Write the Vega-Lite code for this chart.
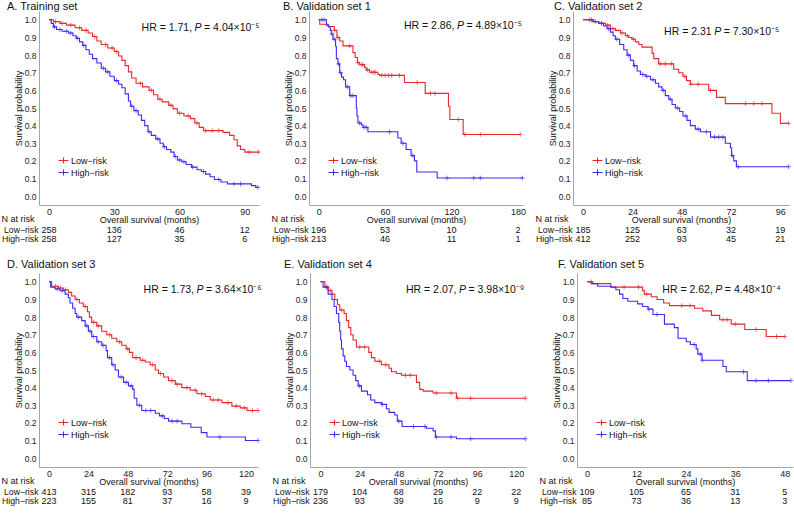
{
"$schema": "https://vega.github.io/schema/vega-lite/v6.json",
"background": "white",
"padding": {"left": 1, "top": 1, "right": 0, "bottom": 0},
"spacing": 15,
"resolve": {"scale": {"color": "independent"}, "legend": {"color": "independent"}},
"config": {
  "font": "Liberation Sans",
  "view": {"stroke": null},
  "axis": {"grid": false, "ticks": false, "tickSize": 0, "domainColor": "#A6A6A6", "domainWidth": 1, "labelFontSize": 9, "labelColor": "#222222", "titleFontSize": 9, "titleFontWeight": "normal", "titleColor": "#111111", "labelPadding": 2, "labelOverlap": false},
  "axisX": {"titlePadding": -1, "labelPadding": 2},
  "axisY": {"labelPadding": 3, "titlePadding": 1, "labelFontSize": 8.5},
  "legend": {"orient": "none", "legendX": 19, "legendY": 144, "padding": 0, "labelFontSize": 9, "labelColor": "#111111", "symbolSize": 100, "symbolStrokeWidth": 1, "rowPadding": 1, "labelOffset": 2, "symbolType": "M-1,0H1M0,-0.6V0.6"},
  "title": {"fontSize": 11, "fontWeight": "normal", "anchor": "start", "color": "#111111", "offset": -1, "frame": "group"}
},
"datasets": {
"stats": [
{"panel":"A","hr":"HR = 1.71,","rest":"= 4.04×10⁻⁵"},
{"panel":"B","hr":"HR = 2.86,","rest":"= 4.89×10⁻⁵"},
{"panel":"C","hr":"HR = 2.31","rest":"= 7.30×10⁻⁵"},
{"panel":"D","hr":"HR = 1.73,","rest":"= 3.64×10⁻⁶"},
{"panel":"E","hr":"HR = 2.07,","rest":"= 3.98×10⁻⁹"},
{"panel":"F","hr":"HR = 2.62,","rest":"= 4.48×10⁻⁴"}
],
"risk": [
{"panel":"A","group":"Low−risk","time":0,"n":258},{"panel":"A","group":"Low−risk","time":30,"n":136},{"panel":"A","group":"Low−risk","time":60,"n":46},{"panel":"A","group":"Low−risk","time":90,"n":12},
{"panel":"A","group":"High−risk","time":0,"n":258},{"panel":"A","group":"High−risk","time":30,"n":127},{"panel":"A","group":"High−risk","time":60,"n":35},{"panel":"A","group":"High−risk","time":90,"n":6},
{"panel":"B","group":"Low−risk","time":0,"n":196},{"panel":"B","group":"Low−risk","time":60,"n":53},{"panel":"B","group":"Low−risk","time":120,"n":10},{"panel":"B","group":"Low−risk","time":180,"n":2},
{"panel":"B","group":"High−risk","time":0,"n":213},{"panel":"B","group":"High−risk","time":60,"n":46},{"panel":"B","group":"High−risk","time":120,"n":11},{"panel":"B","group":"High−risk","time":180,"n":1},
{"panel":"C","group":"Low−risk","time":0,"n":185},{"panel":"C","group":"Low−risk","time":24,"n":125},{"panel":"C","group":"Low−risk","time":48,"n":63},{"panel":"C","group":"Low−risk","time":72,"n":32},{"panel":"C","group":"Low−risk","time":96,"n":19},
{"panel":"C","group":"High−risk","time":0,"n":412},{"panel":"C","group":"High−risk","time":24,"n":252},{"panel":"C","group":"High−risk","time":48,"n":93},{"panel":"C","group":"High−risk","time":72,"n":45},{"panel":"C","group":"High−risk","time":96,"n":21},
{"panel":"D","group":"Low−risk","time":0,"n":413},{"panel":"D","group":"Low−risk","time":24,"n":315},{"panel":"D","group":"Low−risk","time":48,"n":182},{"panel":"D","group":"Low−risk","time":72,"n":93},{"panel":"D","group":"Low−risk","time":96,"n":58},{"panel":"D","group":"Low−risk","time":120,"n":39},
{"panel":"D","group":"High−risk","time":0,"n":223},{"panel":"D","group":"High−risk","time":24,"n":155},{"panel":"D","group":"High−risk","time":48,"n":81},{"panel":"D","group":"High−risk","time":72,"n":37},{"panel":"D","group":"High−risk","time":96,"n":16},{"panel":"D","group":"High−risk","time":120,"n":9},
{"panel":"E","group":"Low−risk","time":0,"n":179},{"panel":"E","group":"Low−risk","time":24,"n":104},{"panel":"E","group":"Low−risk","time":48,"n":68},{"panel":"E","group":"Low−risk","time":72,"n":29},{"panel":"E","group":"Low−risk","time":96,"n":22},{"panel":"E","group":"Low−risk","time":120,"n":22},
{"panel":"E","group":"High−risk","time":0,"n":236},{"panel":"E","group":"High−risk","time":24,"n":93},{"panel":"E","group":"High−risk","time":48,"n":39},{"panel":"E","group":"High−risk","time":72,"n":16},{"panel":"E","group":"High−risk","time":96,"n":9},{"panel":"E","group":"High−risk","time":120,"n":9},
{"panel":"F","group":"Low−risk","time":0,"n":109},{"panel":"F","group":"Low−risk","time":12,"n":105},{"panel":"F","group":"Low−risk","time":24,"n":65},{"panel":"F","group":"Low−risk","time":36,"n":31},{"panel":"F","group":"Low−risk","time":48,"n":5},
{"panel":"F","group":"High−risk","time":0,"n":85},{"panel":"F","group":"High−risk","time":12,"n":73},{"panel":"F","group":"High−risk","time":24,"n":36},{"panel":"F","group":"High−risk","time":36,"n":13},{"panel":"F","group":"High−risk","time":48,"n":3}
],
"km": [
{"panel":"A","group":"Low−risk","time":0,"surv":1,"cens":0},{"panel":"A","group":"Low−risk","time":2,"surv":0.99,"cens":0},{"panel":"A","group":"Low−risk","time":5,"surv":0.98,"cens":0},{"panel":"A","group":"Low−risk","time":8,"surv":0.97,"cens":0},{"panel":"A","group":"Low−risk","time":12,"surv":0.955,"cens":0},{"panel":"A","group":"Low−risk","time":15,"surv":0.94,"cens":0},{"panel":"A","group":"Low−risk","time":18,"surv":0.925,"cens":0},{"panel":"A","group":"Low−risk","time":20,"surv":0.905,"cens":0},{"panel":"A","group":"Low−risk","time":22,"surv":0.88,"cens":0},{"panel":"A","group":"Low−risk","time":24,"surv":0.86,"cens":0},{"panel":"A","group":"Low−risk","time":27,"surv":0.84,"cens":0},{"panel":"A","group":"Low−risk","time":30,"surv":0.82,"cens":0},{"panel":"A","group":"Low−risk","time":32,"surv":0.795,"cens":0},{"panel":"A","group":"Low−risk","time":33.5,"surv":0.77,"cens":0},{"panel":"A","group":"Low−risk","time":35,"surv":0.74,"cens":0},{"panel":"A","group":"Low−risk","time":36.5,"surv":0.705,"cens":0},{"panel":"A","group":"Low−risk","time":38,"surv":0.67,"cens":0},{"panel":"A","group":"Low−risk","time":40,"surv":0.64,"cens":0},{"panel":"A","group":"Low−risk","time":43,"surv":0.62,"cens":0},{"panel":"A","group":"Low−risk","time":46,"surv":0.6,"cens":0},{"panel":"A","group":"Low−risk","time":48,"surv":0.575,"cens":0},{"panel":"A","group":"Low−risk","time":50,"surv":0.55,"cens":0},{"panel":"A","group":"Low−risk","time":52,"surv":0.535,"cens":0},{"panel":"A","group":"Low−risk","time":55,"surv":0.515,"cens":0},{"panel":"A","group":"Low−risk","time":57,"surv":0.495,"cens":0},{"panel":"A","group":"Low−risk","time":59,"surv":0.47,"cens":0},{"panel":"A","group":"Low−risk","time":62,"surv":0.455,"cens":0},{"panel":"A","group":"Low−risk","time":65,"surv":0.44,"cens":0},{"panel":"A","group":"Low−risk","time":67,"surv":0.415,"cens":0},{"panel":"A","group":"Low−risk","time":69,"surv":0.39,"cens":0},{"panel":"A","group":"Low−risk","time":71,"surv":0.372,"cens":0},{"panel":"A","group":"Low−risk","time":80,"surv":0.362,"cens":0},{"panel":"A","group":"Low−risk","time":83,"surv":0.345,"cens":0},{"panel":"A","group":"Low−risk","time":85,"surv":0.32,"cens":0},{"panel":"A","group":"Low−risk","time":86.5,"surv":0.285,"cens":0},{"panel":"A","group":"Low−risk","time":88,"surv":0.265,"cens":0},{"panel":"A","group":"Low−risk","time":90,"surv":0.25,"cens":0},
{"panel":"A","group":"Low−risk","time":3,"surv":0.99,"cens":1},{"panel":"A","group":"Low−risk","time":6,"surv":0.98,"cens":1},{"panel":"A","group":"Low−risk","time":10,"surv":0.97,"cens":1},{"panel":"A","group":"Low−risk","time":14,"surv":0.955,"cens":1},{"panel":"A","group":"Low−risk","time":17,"surv":0.94,"cens":1},{"panel":"A","group":"Low−risk","time":21,"surv":0.905,"cens":1},{"panel":"A","group":"Low−risk","time":26,"surv":0.86,"cens":1},{"panel":"A","group":"Low−risk","time":29,"surv":0.84,"cens":1},{"panel":"A","group":"Low−risk","time":31,"surv":0.82,"cens":1},{"panel":"A","group":"Low−risk","time":42,"surv":0.64,"cens":1},{"panel":"A","group":"Low−risk","time":47,"surv":0.6,"cens":1},{"panel":"A","group":"Low−risk","time":51,"surv":0.55,"cens":1},{"panel":"A","group":"Low−risk","time":56,"surv":0.515,"cens":1},{"panel":"A","group":"Low−risk","time":60,"surv":0.47,"cens":1},{"panel":"A","group":"Low−risk","time":64,"surv":0.455,"cens":1},{"panel":"A","group":"Low−risk","time":68,"surv":0.415,"cens":1},{"panel":"A","group":"Low−risk","time":72,"surv":0.372,"cens":1},{"panel":"A","group":"Low−risk","time":75,"surv":0.372,"cens":1},{"panel":"A","group":"Low−risk","time":78,"surv":0.372,"cens":1},{"panel":"A","group":"Low−risk","time":92,"surv":0.25,"cens":1},{"panel":"A","group":"Low−risk","time":96.3,"surv":0.25,"cens":1},
{"panel":"A","group":"High−risk","time":0,"surv":1,"cens":0},{"panel":"A","group":"High−risk","time":1,"surv":0.98,"cens":0},{"panel":"A","group":"High−risk","time":2,"surv":0.96,"cens":0},{"panel":"A","group":"High−risk","time":3.5,"surv":0.945,"cens":0},{"panel":"A","group":"High−risk","time":6,"surv":0.935,"cens":0},{"panel":"A","group":"High−risk","time":9,"surv":0.925,"cens":0},{"panel":"A","group":"High−risk","time":11,"surv":0.91,"cens":0},{"panel":"A","group":"High−risk","time":12.5,"surv":0.895,"cens":0},{"panel":"A","group":"High−risk","time":14,"surv":0.875,"cens":0},{"panel":"A","group":"High−risk","time":15.5,"surv":0.855,"cens":0},{"panel":"A","group":"High−risk","time":17,"surv":0.83,"cens":0},{"panel":"A","group":"High−risk","time":18.5,"surv":0.805,"cens":0},{"panel":"A","group":"High−risk","time":20,"surv":0.78,"cens":0},{"panel":"A","group":"High−risk","time":22,"surv":0.755,"cens":0},{"panel":"A","group":"High−risk","time":24,"surv":0.725,"cens":0},{"panel":"A","group":"High−risk","time":26,"surv":0.705,"cens":0},{"panel":"A","group":"High−risk","time":28,"surv":0.68,"cens":0},{"panel":"A","group":"High−risk","time":30,"surv":0.655,"cens":0},{"panel":"A","group":"High−risk","time":32,"surv":0.635,"cens":0},{"panel":"A","group":"High−risk","time":33.5,"surv":0.615,"cens":0},{"panel":"A","group":"High−risk","time":35,"surv":0.58,"cens":0},{"panel":"A","group":"High−risk","time":36.5,"surv":0.54,"cens":0},{"panel":"A","group":"High−risk","time":37.5,"surv":0.51,"cens":0},{"panel":"A","group":"High−risk","time":39,"surv":0.485,"cens":0},{"panel":"A","group":"High−risk","time":41,"surv":0.46,"cens":0},{"panel":"A","group":"High−risk","time":42.5,"surv":0.43,"cens":0},{"panel":"A","group":"High−risk","time":44,"surv":0.4,"cens":0},{"panel":"A","group":"High−risk","time":45.5,"surv":0.365,"cens":0},{"panel":"A","group":"High−risk","time":47,"surv":0.345,"cens":0},{"panel":"A","group":"High−risk","time":49,"surv":0.325,"cens":0},{"panel":"A","group":"High−risk","time":51,"surv":0.3,"cens":0},{"panel":"A","group":"High−risk","time":52.5,"surv":0.28,"cens":0},{"panel":"A","group":"High−risk","time":54,"surv":0.265,"cens":0},{"panel":"A","group":"High−risk","time":56,"surv":0.25,"cens":0},{"panel":"A","group":"High−risk","time":57.5,"surv":0.225,"cens":0},{"panel":"A","group":"High−risk","time":59,"surv":0.205,"cens":0},{"panel":"A","group":"High−risk","time":61,"surv":0.195,"cens":0},{"panel":"A","group":"High−risk","time":63,"surv":0.18,"cens":0},{"panel":"A","group":"High−risk","time":65.5,"surv":0.165,"cens":0},{"panel":"A","group":"High−risk","time":68,"surv":0.15,"cens":0},{"panel":"A","group":"High−risk","time":70,"surv":0.14,"cens":0},{"panel":"A","group":"High−risk","time":72,"surv":0.125,"cens":0},{"panel":"A","group":"High−risk","time":74,"surv":0.11,"cens":0},{"panel":"A","group":"High−risk","time":76,"surv":0.095,"cens":0},{"panel":"A","group":"High−risk","time":79,"surv":0.08,"cens":0},{"panel":"A","group":"High−risk","time":82,"surv":0.07,"cens":0},{"panel":"A","group":"High−risk","time":93,"surv":0.06,"cens":0},{"panel":"A","group":"High−risk","time":95,"surv":0.05,"cens":0},
{"panel":"A","group":"High−risk","time":2.5,"surv":0.96,"cens":1},{"panel":"A","group":"High−risk","time":5,"surv":0.945,"cens":1},{"panel":"A","group":"High−risk","time":8,"surv":0.935,"cens":1},{"panel":"A","group":"High−risk","time":10,"surv":0.925,"cens":1},{"panel":"A","group":"High−risk","time":13,"surv":0.895,"cens":1},{"panel":"A","group":"High−risk","time":16,"surv":0.855,"cens":1},{"panel":"A","group":"High−risk","time":25,"surv":0.725,"cens":1},{"panel":"A","group":"High−risk","time":27,"surv":0.705,"cens":1},{"panel":"A","group":"High−risk","time":31,"surv":0.655,"cens":1},{"panel":"A","group":"High−risk","time":38,"surv":0.51,"cens":1},{"panel":"A","group":"High−risk","time":40,"surv":0.485,"cens":1},{"panel":"A","group":"High−risk","time":46,"surv":0.365,"cens":1},{"panel":"A","group":"High−risk","time":50,"surv":0.325,"cens":1},{"panel":"A","group":"High−risk","time":53,"surv":0.28,"cens":1},{"panel":"A","group":"High−risk","time":58,"surv":0.225,"cens":1},{"panel":"A","group":"High−risk","time":60,"surv":0.205,"cens":1},{"panel":"A","group":"High−risk","time":62,"surv":0.195,"cens":1},{"panel":"A","group":"High−risk","time":66,"surv":0.165,"cens":1},{"panel":"A","group":"High−risk","time":71,"surv":0.14,"cens":1},{"panel":"A","group":"High−risk","time":78,"surv":0.095,"cens":1},{"panel":"A","group":"High−risk","time":85,"surv":0.07,"cens":1},{"panel":"A","group":"High−risk","time":88,"surv":0.07,"cens":1},{"panel":"A","group":"High−risk","time":96,"surv":0.05,"cens":1},
{"panel":"B","group":"Low−risk","time":0,"surv":1,"cens":0},{"panel":"B","group":"Low−risk","time":1,"surv":0.975,"cens":0},{"panel":"B","group":"Low−risk","time":8.5,"surv":0.962,"cens":0},{"panel":"B","group":"Low−risk","time":14,"surv":0.94,"cens":0},{"panel":"B","group":"Low−risk","time":16.5,"surv":0.9,"cens":0},{"panel":"B","group":"Low−risk","time":19,"surv":0.88,"cens":0},{"panel":"B","group":"Low−risk","time":22,"surv":0.852,"cens":0},{"panel":"B","group":"Low−risk","time":31,"surv":0.814,"cens":0},{"panel":"B","group":"Low−risk","time":33,"surv":0.786,"cens":0},{"panel":"B","group":"Low−risk","time":35,"surv":0.757,"cens":0},{"panel":"B","group":"Low−risk","time":37,"surv":0.746,"cens":0},{"panel":"B","group":"Low−risk","time":41.5,"surv":0.73,"cens":0},{"panel":"B","group":"Low−risk","time":43,"surv":0.716,"cens":0},{"panel":"B","group":"Low−risk","time":46,"surv":0.703,"cens":0},{"panel":"B","group":"Low−risk","time":53.5,"surv":0.69,"cens":0},{"panel":"B","group":"Low−risk","time":55,"surv":0.685,"cens":0},{"panel":"B","group":"Low−risk","time":77.5,"surv":0.645,"cens":0},{"panel":"B","group":"Low−risk","time":96.2,"surv":0.583,"cens":0},{"panel":"B","group":"Low−risk","time":117.2,"surv":0.51,"cens":0},{"panel":"B","group":"Low−risk","time":118.5,"surv":0.435,"cens":0},{"panel":"B","group":"Low−risk","time":130.5,"surv":0.35,"cens":0},
{"panel":"B","group":"Low−risk","time":14.5,"surv":0.94,"cens":1},{"panel":"B","group":"Low−risk","time":17.5,"surv":0.9,"cens":1},{"panel":"B","group":"Low−risk","time":28,"surv":0.852,"cens":1},{"panel":"B","group":"Low−risk","time":35.5,"surv":0.757,"cens":1},{"panel":"B","group":"Low−risk","time":39,"surv":0.746,"cens":1},{"panel":"B","group":"Low−risk","time":40,"surv":0.746,"cens":1},{"panel":"B","group":"Low−risk","time":44,"surv":0.716,"cens":1},{"panel":"B","group":"Low−risk","time":48,"surv":0.703,"cens":1},{"panel":"B","group":"Low−risk","time":50,"surv":0.703,"cens":1},{"panel":"B","group":"Low−risk","time":51,"surv":0.703,"cens":1},{"panel":"B","group":"Low−risk","time":57,"surv":0.685,"cens":1},{"panel":"B","group":"Low−risk","time":60,"surv":0.685,"cens":1},{"panel":"B","group":"Low−risk","time":63,"surv":0.685,"cens":1},{"panel":"B","group":"Low−risk","time":66,"surv":0.685,"cens":1},{"panel":"B","group":"Low−risk","time":73,"surv":0.685,"cens":1},{"panel":"B","group":"Low−risk","time":89,"surv":0.645,"cens":1},{"panel":"B","group":"Low−risk","time":101,"surv":0.583,"cens":1},{"panel":"B","group":"Low−risk","time":105,"surv":0.583,"cens":1},{"panel":"B","group":"Low−risk","time":126,"surv":0.435,"cens":1},{"panel":"B","group":"Low−risk","time":132,"surv":0.35,"cens":1},{"panel":"B","group":"Low−risk","time":146,"surv":0.35,"cens":1},{"panel":"B","group":"Low−risk","time":182,"surv":0.35,"cens":1},
{"panel":"B","group":"High−risk","time":0,"surv":1,"cens":0},{"panel":"B","group":"High−risk","time":7,"surv":0.97,"cens":0},{"panel":"B","group":"High−risk","time":9,"surv":0.96,"cens":0},{"panel":"B","group":"High−risk","time":10.5,"surv":0.94,"cens":0},{"panel":"B","group":"High−risk","time":11.5,"surv":0.92,"cens":0},{"panel":"B","group":"High−risk","time":13,"surv":0.89,"cens":0},{"panel":"B","group":"High−risk","time":15.3,"surv":0.85,"cens":0},{"panel":"B","group":"High−risk","time":16,"surv":0.78,"cens":0},{"panel":"B","group":"High−risk","time":17.4,"surv":0.75,"cens":0},{"panel":"B","group":"High−risk","time":19,"surv":0.7,"cens":0},{"panel":"B","group":"High−risk","time":20.7,"surv":0.675,"cens":0},{"panel":"B","group":"High−risk","time":22.5,"surv":0.66,"cens":0},{"panel":"B","group":"High−risk","time":24.3,"surv":0.62,"cens":0},{"panel":"B","group":"High−risk","time":28,"surv":0.57,"cens":0},{"panel":"B","group":"High−risk","time":34,"surv":0.5,"cens":0},{"panel":"B","group":"High−risk","time":34.6,"surv":0.455,"cens":0},{"panel":"B","group":"High−risk","time":35.5,"surv":0.415,"cens":0},{"panel":"B","group":"High−risk","time":38.5,"surv":0.405,"cens":0},{"panel":"B","group":"High−risk","time":40,"surv":0.39,"cens":0},{"panel":"B","group":"High−risk","time":44.5,"surv":0.365,"cens":0},{"panel":"B","group":"High−risk","time":71.5,"surv":0.33,"cens":0},{"panel":"B","group":"High−risk","time":74.5,"surv":0.3,"cens":0},{"panel":"B","group":"High−risk","time":79,"surv":0.265,"cens":0},{"panel":"B","group":"High−risk","time":83.5,"surv":0.23,"cens":0},{"panel":"B","group":"High−risk","time":86.5,"surv":0.2,"cens":0},{"panel":"B","group":"High−risk","time":88.6,"surv":0.137,"cens":0},{"panel":"B","group":"High−risk","time":107,"surv":0.103,"cens":0},
{"panel":"B","group":"High−risk","time":3,"surv":1,"cens":1},{"panel":"B","group":"High−risk","time":5,"surv":1,"cens":1},{"panel":"B","group":"High−risk","time":12,"surv":0.92,"cens":1},{"panel":"B","group":"High−risk","time":14,"surv":0.89,"cens":1},{"panel":"B","group":"High−risk","time":18,"surv":0.75,"cens":1},{"panel":"B","group":"High−risk","time":20,"surv":0.7,"cens":1},{"panel":"B","group":"High−risk","time":26,"surv":0.62,"cens":1},{"panel":"B","group":"High−risk","time":29,"surv":0.57,"cens":1},{"panel":"B","group":"High−risk","time":31,"surv":0.57,"cens":1},{"panel":"B","group":"High−risk","time":37,"surv":0.415,"cens":1},{"panel":"B","group":"High−risk","time":41,"surv":0.39,"cens":1},{"panel":"B","group":"High−risk","time":43,"surv":0.39,"cens":1},{"panel":"B","group":"High−risk","time":64,"surv":0.365,"cens":1},{"panel":"B","group":"High−risk","time":76,"surv":0.3,"cens":1},{"panel":"B","group":"High−risk","time":85,"surv":0.23,"cens":1},{"panel":"B","group":"High−risk","time":116,"surv":0.103,"cens":1},{"panel":"B","group":"High−risk","time":140,"surv":0.103,"cens":1},{"panel":"B","group":"High−risk","time":146,"surv":0.103,"cens":1},{"panel":"B","group":"High−risk","time":184,"surv":0.103,"cens":1},
{"panel":"C","group":"Low−risk","time":0,"surv":1,"cens":0},{"panel":"C","group":"Low−risk","time":4.4,"surv":0.99,"cens":0},{"panel":"C","group":"Low−risk","time":7.6,"surv":0.98,"cens":0},{"panel":"C","group":"Low−risk","time":10.9,"surv":0.97,"cens":0},{"panel":"C","group":"Low−risk","time":13.3,"surv":0.95,"cens":0},{"panel":"C","group":"Low−risk","time":15.7,"surv":0.94,"cens":0},{"panel":"C","group":"Low−risk","time":18.2,"surv":0.925,"cens":0},{"panel":"C","group":"Low−risk","time":20.6,"surv":0.91,"cens":0},{"panel":"C","group":"Low−risk","time":22.2,"surv":0.9,"cens":0},{"panel":"C","group":"Low−risk","time":23.8,"surv":0.89,"cens":0},{"panel":"C","group":"Low−risk","time":25.5,"surv":0.875,"cens":0},{"panel":"C","group":"Low−risk","time":27.1,"surv":0.86,"cens":0},{"panel":"C","group":"Low−risk","time":28.7,"surv":0.845,"cens":0},{"panel":"C","group":"Low−risk","time":33.6,"surv":0.81,"cens":0},{"panel":"C","group":"Low−risk","time":34.4,"surv":0.78,"cens":0},{"panel":"C","group":"Low−risk","time":36.8,"surv":0.75,"cens":0},{"panel":"C","group":"Low−risk","time":44.1,"surv":0.72,"cens":0},{"panel":"C","group":"Low−risk","time":46.5,"surv":0.7,"cens":0},{"panel":"C","group":"Low−risk","time":48.6,"surv":0.68,"cens":0},{"panel":"C","group":"Low−risk","time":50.3,"surv":0.655,"cens":0},{"panel":"C","group":"Low−risk","time":52.2,"surv":0.635,"cens":0},{"panel":"C","group":"Low−risk","time":61.1,"surv":0.6,"cens":0},{"panel":"C","group":"Low−risk","time":64.9,"surv":0.56,"cens":0},{"panel":"C","group":"Low−risk","time":69.2,"surv":0.525,"cens":0},{"panel":"C","group":"Low−risk","time":91.9,"surv":0.47,"cens":0},{"panel":"C","group":"Low−risk","time":96,"surv":0.413,"cens":0},
{"panel":"C","group":"Low−risk","time":3,"surv":1,"cens":1},{"panel":"C","group":"Low−risk","time":6,"surv":0.99,"cens":1},{"panel":"C","group":"Low−risk","time":9,"surv":0.98,"cens":1},{"panel":"C","group":"Low−risk","time":12,"surv":0.97,"cens":1},{"panel":"C","group":"Low−risk","time":14.5,"surv":0.95,"cens":1},{"panel":"C","group":"Low−risk","time":19,"surv":0.925,"cens":1},{"panel":"C","group":"Low−risk","time":21.5,"surv":0.91,"cens":1},{"panel":"C","group":"Low−risk","time":24.5,"surv":0.89,"cens":1},{"panel":"C","group":"Low−risk","time":37.5,"surv":0.75,"cens":1},{"panel":"C","group":"Low−risk","time":40,"surv":0.75,"cens":1},{"panel":"C","group":"Low−risk","time":43,"surv":0.75,"cens":1},{"panel":"C","group":"Low−risk","time":49.5,"surv":0.68,"cens":1},{"panel":"C","group":"Low−risk","time":52.5,"surv":0.635,"cens":1},{"panel":"C","group":"Low−risk","time":56,"surv":0.635,"cens":1},{"panel":"C","group":"Low−risk","time":62,"surv":0.6,"cens":1},{"panel":"C","group":"Low−risk","time":79,"surv":0.525,"cens":1},{"panel":"C","group":"Low−risk","time":83,"surv":0.525,"cens":1},{"panel":"C","group":"Low−risk","time":87,"surv":0.525,"cens":1},{"panel":"C","group":"Low−risk","time":100,"surv":0.413,"cens":1},
{"panel":"C","group":"High−risk","time":0,"surv":1,"cens":0},{"panel":"C","group":"High−risk","time":5.2,"surv":0.99,"cens":0},{"panel":"C","group":"High−risk","time":7.6,"surv":0.98,"cens":0},{"panel":"C","group":"High−risk","time":10,"surv":0.965,"cens":0},{"panel":"C","group":"High−risk","time":11.7,"surv":0.95,"cens":0},{"panel":"C","group":"High−risk","time":13.3,"surv":0.93,"cens":0},{"panel":"C","group":"High−risk","time":14.6,"surv":0.91,"cens":0},{"panel":"C","group":"High−risk","time":15.7,"surv":0.89,"cens":0},{"panel":"C","group":"High−risk","time":17.8,"surv":0.86,"cens":0},{"panel":"C","group":"High−risk","time":19.8,"surv":0.83,"cens":0},{"panel":"C","group":"High−risk","time":21.4,"surv":0.8,"cens":0},{"panel":"C","group":"High−risk","time":23,"surv":0.77,"cens":0},{"panel":"C","group":"High−risk","time":24.6,"surv":0.74,"cens":0},{"panel":"C","group":"High−risk","time":26.3,"surv":0.71,"cens":0},{"panel":"C","group":"High−risk","time":27.9,"surv":0.69,"cens":0},{"panel":"C","group":"High−risk","time":30.3,"surv":0.68,"cens":0},{"panel":"C","group":"High−risk","time":32.8,"surv":0.66,"cens":0},{"panel":"C","group":"High−risk","time":35.2,"surv":0.64,"cens":0},{"panel":"C","group":"High−risk","time":36.8,"surv":0.62,"cens":0},{"panel":"C","group":"High−risk","time":38.4,"surv":0.6,"cens":0},{"panel":"C","group":"High−risk","time":40,"surv":0.57,"cens":0},{"panel":"C","group":"High−risk","time":41.7,"surv":0.55,"cens":0},{"panel":"C","group":"High−risk","time":43.3,"surv":0.52,"cens":0},{"panel":"C","group":"High−risk","time":44.9,"surv":0.5,"cens":0},{"panel":"C","group":"High−risk","time":47,"surv":0.48,"cens":0},{"panel":"C","group":"High−risk","time":48.6,"surv":0.455,"cens":0},{"panel":"C","group":"High−risk","time":50.6,"surv":0.43,"cens":0},{"panel":"C","group":"High−risk","time":52.2,"surv":0.4,"cens":0},{"panel":"C","group":"High−risk","time":54.6,"surv":0.38,"cens":0},{"panel":"C","group":"High−risk","time":57.1,"surv":0.365,"cens":0},{"panel":"C","group":"High−risk","time":62,"surv":0.335,"cens":0},{"panel":"C","group":"High−risk","time":69.2,"surv":0.3,"cens":0},{"panel":"C","group":"High−risk","time":71.7,"surv":0.275,"cens":0},{"panel":"C","group":"High−risk","time":72.3,"surv":0.23,"cens":0},{"panel":"C","group":"High−risk","time":73.3,"surv":0.2,"cens":0},{"panel":"C","group":"High−risk","time":74.6,"surv":0.167,"cens":0},
{"panel":"C","group":"High−risk","time":4,"surv":1,"cens":1},{"panel":"C","group":"High−risk","time":9,"surv":0.98,"cens":1},{"panel":"C","group":"High−risk","time":12.5,"surv":0.95,"cens":1},{"panel":"C","group":"High−risk","time":16.5,"surv":0.89,"cens":1},{"panel":"C","group":"High−risk","time":22,"surv":0.8,"cens":1},{"panel":"C","group":"High−risk","time":25,"surv":0.74,"cens":1},{"panel":"C","group":"High−risk","time":29,"surv":0.69,"cens":1},{"panel":"C","group":"High−risk","time":31,"surv":0.68,"cens":1},{"panel":"C","group":"High−risk","time":34,"surv":0.66,"cens":1},{"panel":"C","group":"High−risk","time":39,"surv":0.6,"cens":1},{"panel":"C","group":"High−risk","time":42.5,"surv":0.55,"cens":1},{"panel":"C","group":"High−risk","time":46,"surv":0.5,"cens":1},{"panel":"C","group":"High−risk","time":50,"surv":0.455,"cens":1},{"panel":"C","group":"High−risk","time":56,"surv":0.38,"cens":1},{"panel":"C","group":"High−risk","time":60,"surv":0.365,"cens":1},{"panel":"C","group":"High−risk","time":64,"surv":0.335,"cens":1},{"panel":"C","group":"High−risk","time":66,"surv":0.335,"cens":1},{"panel":"C","group":"High−risk","time":68,"surv":0.335,"cens":1},{"panel":"C","group":"High−risk","time":72.5,"surv":0.23,"cens":1},{"panel":"C","group":"High−risk","time":75.5,"surv":0.167,"cens":1},{"panel":"C","group":"High−risk","time":100,"surv":0.167,"cens":1},
{"panel":"D","group":"Low−risk","time":0,"surv":1,"cens":0},{"panel":"D","group":"Low−risk","time":1.6,"surv":0.975,"cens":0},{"panel":"D","group":"Low−risk","time":5.7,"surv":0.965,"cens":0},{"panel":"D","group":"Low−risk","time":8.7,"surv":0.955,"cens":0},{"panel":"D","group":"Low−risk","time":11.8,"surv":0.94,"cens":0},{"panel":"D","group":"Low−risk","time":13.8,"surv":0.92,"cens":0},{"panel":"D","group":"Low−risk","time":15.9,"surv":0.9,"cens":0},{"panel":"D","group":"Low−risk","time":18.5,"surv":0.88,"cens":0},{"panel":"D","group":"Low−risk","time":20.9,"surv":0.86,"cens":0},{"panel":"D","group":"Low−risk","time":23.4,"surv":0.83,"cens":0},{"panel":"D","group":"Low−risk","time":24.6,"surv":0.8,"cens":0},{"panel":"D","group":"Low−risk","time":26,"surv":0.77,"cens":0},{"panel":"D","group":"Low−risk","time":29.1,"surv":0.75,"cens":0},{"panel":"D","group":"Low−risk","time":32.1,"surv":0.72,"cens":0},{"panel":"D","group":"Low−risk","time":35.2,"surv":0.7,"cens":0},{"panel":"D","group":"Low−risk","time":38.2,"surv":0.68,"cens":0},{"panel":"D","group":"Low−risk","time":41.3,"surv":0.66,"cens":0},{"panel":"D","group":"Low−risk","time":44.3,"surv":0.64,"cens":0},{"panel":"D","group":"Low−risk","time":47,"surv":0.62,"cens":0},{"panel":"D","group":"Low−risk","time":49,"surv":0.6,"cens":0},{"panel":"D","group":"Low−risk","time":51,"surv":0.57,"cens":0},{"panel":"D","group":"Low−risk","time":55.5,"surv":0.555,"cens":0},{"panel":"D","group":"Low−risk","time":58.6,"surv":0.545,"cens":0},{"panel":"D","group":"Low−risk","time":61.6,"surv":0.53,"cens":0},{"panel":"D","group":"Low−risk","time":64.7,"surv":0.5,"cens":0},{"panel":"D","group":"Low−risk","time":66.7,"surv":0.48,"cens":0},{"panel":"D","group":"Low−risk","time":69.8,"surv":0.46,"cens":0},{"panel":"D","group":"Low−risk","time":72.8,"surv":0.44,"cens":0},{"panel":"D","group":"Low−risk","time":76.9,"surv":0.42,"cens":0},{"panel":"D","group":"Low−risk","time":80.9,"surv":0.4,"cens":0},{"panel":"D","group":"Low−risk","time":86,"surv":0.385,"cens":0},{"panel":"D","group":"Low−risk","time":90.1,"surv":0.365,"cens":0},{"panel":"D","group":"Low−risk","time":95.2,"surv":0.35,"cens":0},{"panel":"D","group":"Low−risk","time":98.2,"surv":0.33,"cens":0},{"panel":"D","group":"Low−risk","time":105.3,"surv":0.315,"cens":0},{"panel":"D","group":"Low−risk","time":111.4,"surv":0.295,"cens":0},{"panel":"D","group":"Low−risk","time":116.5,"surv":0.285,"cens":0},{"panel":"D","group":"Low−risk","time":120.6,"surv":0.27,"cens":0},
{"panel":"D","group":"Low−risk","time":4,"surv":0.975,"cens":1},{"panel":"D","group":"Low−risk","time":7,"surv":0.965,"cens":1},{"panel":"D","group":"Low−risk","time":10,"surv":0.955,"cens":1},{"panel":"D","group":"Low−risk","time":17,"surv":0.9,"cens":1},{"panel":"D","group":"Low−risk","time":22,"surv":0.86,"cens":1},{"panel":"D","group":"Low−risk","time":27,"surv":0.77,"cens":1},{"panel":"D","group":"Low−risk","time":30,"surv":0.75,"cens":1},{"panel":"D","group":"Low−risk","time":37,"surv":0.7,"cens":1},{"panel":"D","group":"Low−risk","time":43,"surv":0.66,"cens":1},{"panel":"D","group":"Low−risk","time":48,"surv":0.62,"cens":1},{"panel":"D","group":"Low−risk","time":53,"surv":0.57,"cens":1},{"panel":"D","group":"Low−risk","time":57,"surv":0.555,"cens":1},{"panel":"D","group":"Low−risk","time":63,"surv":0.53,"cens":1},{"panel":"D","group":"Low−risk","time":68,"surv":0.48,"cens":1},{"panel":"D","group":"Low−risk","time":75,"surv":0.44,"cens":1},{"panel":"D","group":"Low−risk","time":78,"surv":0.42,"cens":1},{"panel":"D","group":"Low−risk","time":84,"surv":0.4,"cens":1},{"panel":"D","group":"Low−risk","time":89,"surv":0.385,"cens":1},{"panel":"D","group":"Low−risk","time":93,"surv":0.365,"cens":1},{"panel":"D","group":"Low−risk","time":100,"surv":0.33,"cens":1},{"panel":"D","group":"Low−risk","time":103,"surv":0.33,"cens":1},{"panel":"D","group":"Low−risk","time":109,"surv":0.315,"cens":1},{"panel":"D","group":"Low−risk","time":114,"surv":0.295,"cens":1},{"panel":"D","group":"Low−risk","time":119,"surv":0.285,"cens":1},{"panel":"D","group":"Low−risk","time":124,"surv":0.27,"cens":1},{"panel":"D","group":"Low−risk","time":127.3,"surv":0.27,"cens":1},
{"panel":"D","group":"High−risk","time":0,"surv":1,"cens":0},{"panel":"D","group":"High−risk","time":1,"surv":0.97,"cens":0},{"panel":"D","group":"High−risk","time":3.7,"surv":0.96,"cens":0},{"panel":"D","group":"High−risk","time":6.7,"surv":0.95,"cens":0},{"panel":"D","group":"High−risk","time":9.8,"surv":0.93,"cens":0},{"panel":"D","group":"High−risk","time":11.8,"surv":0.91,"cens":0},{"panel":"D","group":"High−risk","time":12.8,"surv":0.88,"cens":0},{"panel":"D","group":"High−risk","time":14.4,"surv":0.85,"cens":0},{"panel":"D","group":"High−risk","time":15.9,"surv":0.82,"cens":0},{"panel":"D","group":"High−risk","time":16.9,"surv":0.8,"cens":0},{"panel":"D","group":"High−risk","time":19.9,"surv":0.78,"cens":0},{"panel":"D","group":"High−risk","time":22,"surv":0.75,"cens":0},{"panel":"D","group":"High−risk","time":24,"surv":0.72,"cens":0},{"panel":"D","group":"High−risk","time":26,"surv":0.69,"cens":0},{"panel":"D","group":"High−risk","time":29.1,"surv":0.66,"cens":0},{"panel":"D","group":"High−risk","time":32.1,"surv":0.64,"cens":0},{"panel":"D","group":"High−risk","time":34.8,"surv":0.61,"cens":0},{"panel":"D","group":"High−risk","time":35.6,"surv":0.57,"cens":0},{"panel":"D","group":"High−risk","time":38.2,"surv":0.53,"cens":0},{"panel":"D","group":"High−risk","time":40.3,"surv":0.5,"cens":0},{"panel":"D","group":"High−risk","time":42.3,"surv":0.46,"cens":0},{"panel":"D","group":"High−risk","time":45.4,"surv":0.43,"cens":0},{"panel":"D","group":"High−risk","time":48.4,"surv":0.41,"cens":0},{"panel":"D","group":"High−risk","time":51,"surv":0.39,"cens":0},{"panel":"D","group":"High−risk","time":51.9,"surv":0.34,"cens":0},{"panel":"D","group":"High−risk","time":53.5,"surv":0.3,"cens":0},{"panel":"D","group":"High−risk","time":56.5,"surv":0.27,"cens":0},{"panel":"D","group":"High−risk","time":64.7,"surv":0.255,"cens":0},{"panel":"D","group":"High−risk","time":67.3,"surv":0.24,"cens":0},{"panel":"D","group":"High−risk","time":70.2,"surv":0.225,"cens":0},{"panel":"D","group":"High−risk","time":72.8,"surv":0.21,"cens":0},{"panel":"D","group":"High−risk","time":81,"surv":0.195,"cens":0},{"panel":"D","group":"High−risk","time":86.4,"surv":0.175,"cens":0},{"panel":"D","group":"High−risk","time":92.7,"surv":0.145,"cens":0},{"panel":"D","group":"High−risk","time":96.2,"surv":0.12,"cens":0},{"panel":"D","group":"High−risk","time":119.6,"surv":0.1,"cens":0},
{"panel":"D","group":"High−risk","time":5,"surv":0.96,"cens":1},{"panel":"D","group":"High−risk","time":8,"surv":0.95,"cens":1},{"panel":"D","group":"High−risk","time":18,"surv":0.8,"cens":1},{"panel":"D","group":"High−risk","time":23,"surv":0.75,"cens":1},{"panel":"D","group":"High−risk","time":25,"surv":0.72,"cens":1},{"panel":"D","group":"High−risk","time":27,"surv":0.69,"cens":1},{"panel":"D","group":"High−risk","time":30,"surv":0.66,"cens":1},{"panel":"D","group":"High−risk","time":33,"surv":0.64,"cens":1},{"panel":"D","group":"High−risk","time":37,"surv":0.57,"cens":1},{"panel":"D","group":"High−risk","time":39,"surv":0.53,"cens":1},{"panel":"D","group":"High−risk","time":44,"surv":0.46,"cens":1},{"panel":"D","group":"High−risk","time":47,"surv":0.43,"cens":1},{"panel":"D","group":"High−risk","time":50,"surv":0.41,"cens":1},{"panel":"D","group":"High−risk","time":55,"surv":0.3,"cens":1},{"panel":"D","group":"High−risk","time":59,"surv":0.27,"cens":1},{"panel":"D","group":"High−risk","time":62,"surv":0.27,"cens":1},{"panel":"D","group":"High−risk","time":69,"surv":0.24,"cens":1},{"panel":"D","group":"High−risk","time":75,"surv":0.21,"cens":1},{"panel":"D","group":"High−risk","time":78,"surv":0.21,"cens":1},{"panel":"D","group":"High−risk","time":104,"surv":0.12,"cens":1},{"panel":"D","group":"High−risk","time":127.3,"surv":0.1,"cens":1},
{"panel":"E","group":"Low−risk","time":0,"surv":1,"cens":0},{"panel":"E","group":"Low−risk","time":2.7,"surv":0.97,"cens":0},{"panel":"E","group":"Low−risk","time":4.7,"surv":0.95,"cens":0},{"panel":"E","group":"Low−risk","time":7.1,"surv":0.93,"cens":0},{"panel":"E","group":"Low−risk","time":8.8,"surv":0.9,"cens":0},{"panel":"E","group":"Low−risk","time":10.4,"surv":0.87,"cens":0},{"panel":"E","group":"Low−risk","time":11.8,"surv":0.84,"cens":0},{"panel":"E","group":"Low−risk","time":14.5,"surv":0.82,"cens":0},{"panel":"E","group":"Low−risk","time":15.9,"surv":0.78,"cens":0},{"panel":"E","group":"Low−risk","time":17.3,"surv":0.74,"cens":0},{"panel":"E","group":"Low−risk","time":18.6,"surv":0.7,"cens":0},{"panel":"E","group":"Low−risk","time":20,"surv":0.67,"cens":0},{"panel":"E","group":"Low−risk","time":22,"surv":0.63,"cens":0},{"panel":"E","group":"Low−risk","time":29.6,"surv":0.6,"cens":0},{"panel":"E","group":"Low−risk","time":31.2,"surv":0.57,"cens":0},{"panel":"E","group":"Low−risk","time":33.3,"surv":0.55,"cens":0},{"panel":"E","group":"Low−risk","time":37.3,"surv":0.53,"cens":0},{"panel":"E","group":"Low−risk","time":42,"surv":0.51,"cens":0},{"panel":"E","group":"Low−risk","time":43.5,"surv":0.49,"cens":0},{"panel":"E","group":"Low−risk","time":46.5,"surv":0.48,"cens":0},{"panel":"E","group":"Low−risk","time":49.6,"surv":0.47,"cens":0},{"panel":"E","group":"Low−risk","time":58.8,"surv":0.43,"cens":0},{"panel":"E","group":"Low−risk","time":60.8,"surv":0.39,"cens":0},{"panel":"E","group":"Low−risk","time":62.9,"surv":0.38,"cens":0},{"panel":"E","group":"Low−risk","time":69,"surv":0.37,"cens":0},{"panel":"E","group":"Low−risk","time":83.3,"surv":0.34,"cens":0},
{"panel":"E","group":"Low−risk","time":3.5,"surv":0.97,"cens":1},{"panel":"E","group":"Low−risk","time":6,"surv":0.95,"cens":1},{"panel":"E","group":"Low−risk","time":13,"surv":0.84,"cens":1},{"panel":"E","group":"Low−risk","time":24,"surv":0.63,"cens":1},{"panel":"E","group":"Low−risk","time":27,"surv":0.63,"cens":1},{"panel":"E","group":"Low−risk","time":36,"surv":0.55,"cens":1},{"panel":"E","group":"Low−risk","time":40,"surv":0.53,"cens":1},{"panel":"E","group":"Low−risk","time":52,"surv":0.47,"cens":1},{"panel":"E","group":"Low−risk","time":55,"surv":0.47,"cens":1},{"panel":"E","group":"Low−risk","time":71,"surv":0.37,"cens":1},{"panel":"E","group":"Low−risk","time":80,"surv":0.37,"cens":1},{"panel":"E","group":"Low−risk","time":84,"surv":0.34,"cens":1},{"panel":"E","group":"Low−risk","time":92,"surv":0.34,"cens":1},{"panel":"E","group":"Low−risk","time":125.5,"surv":0.34,"cens":1},
{"panel":"E","group":"High−risk","time":0,"surv":1,"cens":0},{"panel":"E","group":"High−risk","time":1.6,"surv":0.97,"cens":0},{"panel":"E","group":"High−risk","time":4.7,"surv":0.93,"cens":0},{"panel":"E","group":"High−risk","time":7.1,"surv":0.9,"cens":0},{"panel":"E","group":"High−risk","time":8.4,"surv":0.86,"cens":0},{"panel":"E","group":"High−risk","time":9.8,"surv":0.82,"cens":0},{"panel":"E","group":"High−risk","time":11.2,"surv":0.77,"cens":0},{"panel":"E","group":"High−risk","time":11.8,"surv":0.72,"cens":0},{"panel":"E","group":"High−risk","time":12.4,"surv":0.67,"cens":0},{"panel":"E","group":"High−risk","time":12.9,"surv":0.62,"cens":0},{"panel":"E","group":"High−risk","time":13.9,"surv":0.58,"cens":0},{"panel":"E","group":"High−risk","time":14.9,"surv":0.55,"cens":0},{"panel":"E","group":"High−risk","time":15.9,"surv":0.52,"cens":0},{"panel":"E","group":"High−risk","time":18,"surv":0.5,"cens":0},{"panel":"E","group":"High−risk","time":20,"surv":0.47,"cens":0},{"panel":"E","group":"High−risk","time":21.6,"surv":0.44,"cens":0},{"panel":"E","group":"High−risk","time":23.1,"surv":0.41,"cens":0},{"panel":"E","group":"High−risk","time":25.1,"surv":0.38,"cens":0},{"panel":"E","group":"High−risk","time":28.8,"surv":0.36,"cens":0},{"panel":"E","group":"High−risk","time":30.8,"surv":0.33,"cens":0},{"panel":"E","group":"High−risk","time":33.3,"surv":0.315,"cens":0},{"panel":"E","group":"High−risk","time":37.3,"surv":0.305,"cens":0},{"panel":"E","group":"High−risk","time":40.4,"surv":0.28,"cens":0},{"panel":"E","group":"High−risk","time":42,"surv":0.26,"cens":0},{"panel":"E","group":"High−risk","time":45.5,"surv":0.245,"cens":0},{"panel":"E","group":"High−risk","time":47.1,"surv":0.21,"cens":0},{"panel":"E","group":"High−risk","time":50,"surv":0.18,"cens":0},{"panel":"E","group":"High−risk","time":64.9,"surv":0.17,"cens":0},{"panel":"E","group":"High−risk","time":69,"surv":0.155,"cens":0},{"panel":"E","group":"High−risk","time":70.4,"surv":0.12,"cens":0},{"panel":"E","group":"High−risk","time":83.3,"surv":0.11,"cens":0},
{"panel":"E","group":"High−risk","time":4,"surv":0.97,"cens":1},{"panel":"E","group":"High−risk","time":24,"surv":0.41,"cens":1},{"panel":"E","group":"High−risk","time":38,"surv":0.305,"cens":1},{"panel":"E","group":"High−risk","time":48,"surv":0.21,"cens":1},{"panel":"E","group":"High−risk","time":57,"surv":0.18,"cens":1},{"panel":"E","group":"High−risk","time":64,"surv":0.18,"cens":1},{"panel":"E","group":"High−risk","time":71,"surv":0.12,"cens":1},{"panel":"E","group":"High−risk","time":80,"surv":0.12,"cens":1},{"panel":"E","group":"High−risk","time":92,"surv":0.11,"cens":1},{"panel":"E","group":"High−risk","time":125.5,"surv":0.11,"cens":1},
{"panel":"F","group":"Low−risk","time":0,"surv":1,"cens":0},{"panel":"F","group":"Low−risk","time":1.4,"surv":0.99,"cens":0},{"panel":"F","group":"Low−risk","time":5.8,"surv":0.97,"cens":0},{"panel":"F","group":"Low−risk","time":13.5,"surv":0.95,"cens":0},{"panel":"F","group":"Low−risk","time":13.9,"surv":0.93,"cens":0},{"panel":"F","group":"Low−risk","time":15.6,"surv":0.915,"cens":0},{"panel":"F","group":"Low−risk","time":17,"surv":0.9,"cens":0},{"panel":"F","group":"Low−risk","time":18.6,"surv":0.88,"cens":0},{"panel":"F","group":"Low−risk","time":20,"surv":0.865,"cens":0},{"panel":"F","group":"Low−risk","time":26.1,"surv":0.85,"cens":0},{"panel":"F","group":"Low−risk","time":28.1,"surv":0.835,"cens":0},{"panel":"F","group":"Low−risk","time":30.2,"surv":0.81,"cens":0},{"panel":"F","group":"Low−risk","time":32.2,"surv":0.785,"cens":0},{"panel":"F","group":"Low−risk","time":35,"surv":0.76,"cens":0},{"panel":"F","group":"Low−risk","time":38.3,"surv":0.73,"cens":0},{"panel":"F","group":"Low−risk","time":43.5,"surv":0.69,"cens":0},
{"panel":"F","group":"Low−risk","time":1,"surv":1,"cens":1},{"panel":"F","group":"Low−risk","time":9,"surv":0.97,"cens":1},{"panel":"F","group":"Low−risk","time":12.5,"surv":0.97,"cens":1},{"panel":"F","group":"Low−risk","time":14.5,"surv":0.93,"cens":1},{"panel":"F","group":"Low−risk","time":23,"surv":0.865,"cens":1},{"panel":"F","group":"Low−risk","time":25,"surv":0.865,"cens":1},{"panel":"F","group":"Low−risk","time":33,"surv":0.785,"cens":1},{"panel":"F","group":"Low−risk","time":34,"surv":0.785,"cens":1},{"panel":"F","group":"Low−risk","time":36,"surv":0.76,"cens":1},{"panel":"F","group":"Low−risk","time":41,"surv":0.73,"cens":1},{"panel":"F","group":"Low−risk","time":46,"surv":0.69,"cens":1},{"panel":"F","group":"Low−risk","time":48,"surv":0.69,"cens":1},
{"panel":"F","group":"High−risk","time":0,"surv":1,"cens":0},{"panel":"F","group":"High−risk","time":1,"surv":0.99,"cens":0},{"panel":"F","group":"High−risk","time":2.6,"surv":0.975,"cens":0},{"panel":"F","group":"High−risk","time":5.8,"surv":0.97,"cens":0},{"panel":"F","group":"High−risk","time":7,"surv":0.955,"cens":0},{"panel":"F","group":"High−risk","time":7.9,"surv":0.93,"cens":0},{"panel":"F","group":"High−risk","time":8.7,"surv":0.905,"cens":0},{"panel":"F","group":"High−risk","time":9.9,"surv":0.89,"cens":0},{"panel":"F","group":"High−risk","time":12.3,"surv":0.875,"cens":0},{"panel":"F","group":"High−risk","time":13.5,"surv":0.86,"cens":0},{"panel":"F","group":"High−risk","time":14.8,"surv":0.845,"cens":0},{"panel":"F","group":"High−risk","time":16,"surv":0.815,"cens":0},{"panel":"F","group":"High−risk","time":18.8,"surv":0.76,"cens":0},{"panel":"F","group":"High−risk","time":21.2,"surv":0.74,"cens":0},{"panel":"F","group":"High−risk","time":22.1,"surv":0.68,"cens":0},{"panel":"F","group":"High−risk","time":24.1,"surv":0.66,"cens":0},{"panel":"F","group":"High−risk","time":25.1,"surv":0.645,"cens":0},{"panel":"F","group":"High−risk","time":26.5,"surv":0.62,"cens":0},{"panel":"F","group":"High−risk","time":26.9,"surv":0.59,"cens":0},{"panel":"F","group":"High−risk","time":27.9,"surv":0.555,"cens":0},{"panel":"F","group":"High−risk","time":33,"surv":0.52,"cens":0},{"panel":"F","group":"High−risk","time":33.8,"surv":0.49,"cens":0},{"panel":"F","group":"High−risk","time":38.9,"surv":0.44,"cens":0},
{"panel":"F","group":"High−risk","time":15,"surv":0.845,"cens":1},{"panel":"F","group":"High−risk","time":17,"surv":0.815,"cens":1},{"panel":"F","group":"High−risk","time":26,"surv":0.645,"cens":1},{"panel":"F","group":"High−risk","time":27.5,"surv":0.59,"cens":1},{"panel":"F","group":"High−risk","time":28,"surv":0.555,"cens":1},{"panel":"F","group":"High−risk","time":38,"surv":0.49,"cens":1},{"panel":"F","group":"High−risk","time":41,"surv":0.44,"cens":1},{"panel":"F","group":"High−risk","time":44,"surv":0.44,"cens":1},{"panel":"F","group":"High−risk","time":49.5,"surv":0.44,"cens":1}
]
},
"vconcat": [
{
"spacing": 8,
"resolve": {"scale": {"color": "independent"}, "legend": {"color": "independent"}},
"hconcat": [
{
"bounds": "flush", "spacing": 20,
"resolve": {"scale": {"color": "independent"}, "legend": {"color": "independent"}},
"vconcat": [
{
"width": 220, "height": 194,
"title": {"text": "A. Training set", "dx": -32},
"layer": [
{"data": {"name": "km"}, "transform": [{"filter": "datum.panel === 'A'"}], "mark": {"type": "line", "interpolate": "step-after", "strokeWidth": 1.1}, "encoding": {
"x": {"field": "time", "type": "quantitative", "scale": {"domain": [-4.6, 96.5], "nice": false, "zero": false}, "axis": {"values": [0, 30, 60, 90], "title": "Overall survival (months)", "labelOverlap": false}},
"y": {"field": "surv", "type": "quantitative", "scale": {"domain": [-0.05, 1.05], "nice": false, "zero": false}, "axis": {"values": [0, 0.1, 0.2, 0.3, 0.4, 0.5, 0.6, 0.7, 0.8, 0.9, 1], "format": ".1f", "title": "Survival probability", "labelOverlap": false}},
"color": {"field": "group", "type": "nominal", "scale": {"domain": ["Low−risk", "High−risk"], "range": ["#E8282B", "#3D2BF5"]}, "legend": {"title": null}}}},
{"data": {"name": "km"}, "transform": [{"filter": "datum.panel === 'A' && datum.cens === 1"}], "mark": {"type": "point", "shape": "M-1,0H1M0,-1V1", "size": 22, "strokeWidth": 1, "opacity": 0.65}, "encoding": {
"x": {"field": "time", "type": "quantitative", "scale": {"domain": [-4.6, 96.5], "nice": false, "zero": false}, "axis": {"values": [0, 30, 60, 90], "title": "Overall survival (months)", "labelOverlap": false}},
"y": {"field": "surv", "type": "quantitative", "scale": {"domain": [-0.05, 1.05], "nice": false, "zero": false}, "axis": {"values": [0, 0.1, 0.2, 0.3, 0.4, 0.5, 0.6, 0.7, 0.8, 0.9, 1], "format": ".1f", "title": "Survival probability", "labelOverlap": false}},
"color": {"field": "group", "type": "nominal", "legend": null}}},
{"data": {"name": "stats"}, "transform": [{"filter": "datum.panel === 'A'"}], "mark": {"type": "text", "align": "right", "baseline": "middle", "dx": -6, "fontSize": 10.5, "color": "#111111"}, "encoding": {
"x": {"datum": 68.5, "type": "quantitative", "scale": {"domain": [-4.6, 96.5], "nice": false, "zero": false}, "axis": {"values": [0, 30, 60, 90], "title": "Overall survival (months)", "labelOverlap": false}},
"y": {"datum": 0.956, "type": "quantitative", "scale": {"domain": [-0.05, 1.05], "nice": false, "zero": false}, "axis": {"values": [0, 0.1, 0.2, 0.3, 0.4, 0.5, 0.6, 0.7, 0.8, 0.9, 1], "format": ".1f", "title": "Survival probability", "labelOverlap": false}},
"text": {"field": "hr"}}},
{"data": {"name": "stats"}, "transform": [{"filter": "datum.panel === 'A'"}], "mark": {"type": "text", "align": "center", "baseline": "middle", "fontSize": 10.5, "fontStyle": "italic", "color": "#111111"}, "encoding": {
"x": {"datum": 68.5, "type": "quantitative", "scale": {"domain": [-4.6, 96.5], "nice": false, "zero": false}, "axis": {"values": [0, 30, 60, 90], "title": "Overall survival (months)", "labelOverlap": false}},
"y": {"datum": 0.956, "type": "quantitative", "scale": {"domain": [-0.05, 1.05], "nice": false, "zero": false}, "axis": {"values": [0, 0.1, 0.2, 0.3, 0.4, 0.5, 0.6, 0.7, 0.8, 0.9, 1], "format": ".1f", "title": "Survival probability", "labelOverlap": false}},
"text": {"value": "P"}}},
{"data": {"name": "stats"}, "transform": [{"filter": "datum.panel === 'A'"}], "mark": {"type": "text", "align": "left", "baseline": "middle", "dx": 6, "fontSize": 10.5, "color": "#111111"}, "encoding": {
"x": {"datum": 68.5, "type": "quantitative", "scale": {"domain": [-4.6, 96.5], "nice": false, "zero": false}, "axis": {"values": [0, 30, 60, 90], "title": "Overall survival (months)", "labelOverlap": false}},
"y": {"datum": 0.956, "type": "quantitative", "scale": {"domain": [-0.05, 1.05], "nice": false, "zero": false}, "axis": {"values": [0, 0.1, 0.2, 0.3, 0.4, 0.5, 0.6, 0.7, 0.8, 0.9, 1], "format": ".1f", "title": "Survival probability", "labelOverlap": false}},
"text": {"field": "rest"}}}
]
},
{
"width": 220, "height": 18,
"title": {"text": "N at risk", "frame": "bounds", "fontSize": 9, "offset": 1},
"data": {"name": "risk"},
"transform": [{"filter": "datum.panel === 'A'"}],
"mark": {"type": "text", "fontSize": 9, "color": "#111111"},
"encoding": {
"x": {"field": "time", "type": "quantitative", "scale": {"domain": [-4.6, 96.5], "nice": false, "zero": false}, "axis": null},
"y": {"field": "group", "type": "nominal", "scale": {"domain": ["Low−risk", "High−risk"]}, "axis": {"title": null, "domain": false, "ticks": false, "labelPadding": 1, "labelFontSize": 8.7, "labelColor": "#111111"}},
"text": {"field": "n", "type": "quantitative"}
}
}
]
},
{
"bounds": "flush", "spacing": 20,
"resolve": {"scale": {"color": "independent"}, "legend": {"color": "independent"}},
"vconcat": [
{
"width": 214, "height": 194,
"title": {"text": "B. Validation set 1", "dx": -26},
"layer": [
{"data": {"name": "km"}, "transform": [{"filter": "datum.panel === 'B'"}], "mark": {"type": "line", "interpolate": "step-after", "strokeWidth": 1.1}, "encoding": {
"x": {"field": "time", "type": "quantitative", "scale": {"domain": [-8.7, 184.5], "nice": false, "zero": false}, "axis": {"values": [0, 60, 120, 180], "title": "Overall survival (months)", "labelOverlap": false}},
"y": {"field": "surv", "type": "quantitative", "scale": {"domain": [-0.05, 1.05], "nice": false, "zero": false}, "axis": {"values": [0, 0.1, 0.2, 0.3, 0.4, 0.5, 0.6, 0.7, 0.8, 0.9, 1], "format": ".1f", "title": "Survival probability", "labelOverlap": false}},
"color": {"field": "group", "type": "nominal", "scale": {"domain": ["Low−risk", "High−risk"], "range": ["#E8282B", "#3D2BF5"]}, "legend": {"title": null}}}},
{"data": {"name": "km"}, "transform": [{"filter": "datum.panel === 'B' && datum.cens === 1"}], "mark": {"type": "point", "shape": "M-1,0H1M0,-1V1", "size": 22, "strokeWidth": 1, "opacity": 0.65}, "encoding": {
"x": {"field": "time", "type": "quantitative", "scale": {"domain": [-8.7, 184.5], "nice": false, "zero": false}, "axis": {"values": [0, 60, 120, 180], "title": "Overall survival (months)", "labelOverlap": false}},
"y": {"field": "surv", "type": "quantitative", "scale": {"domain": [-0.05, 1.05], "nice": false, "zero": false}, "axis": {"values": [0, 0.1, 0.2, 0.3, 0.4, 0.5, 0.6, 0.7, 0.8, 0.9, 1], "format": ".1f", "title": "Survival probability", "labelOverlap": false}},
"color": {"field": "group", "type": "nominal", "legend": null}}},
{"data": {"name": "stats"}, "transform": [{"filter": "datum.panel === 'B'"}], "mark": {"type": "text", "align": "right", "baseline": "middle", "dx": -6, "fontSize": 10.5, "color": "#111111"}, "encoding": {
"x": {"datum": 128, "type": "quantitative", "scale": {"domain": [-8.7, 184.5], "nice": false, "zero": false}, "axis": {"values": [0, 60, 120, 180], "title": "Overall survival (months)", "labelOverlap": false}},
"y": {"datum": 0.966, "type": "quantitative", "scale": {"domain": [-0.05, 1.05], "nice": false, "zero": false}, "axis": {"values": [0, 0.1, 0.2, 0.3, 0.4, 0.5, 0.6, 0.7, 0.8, 0.9, 1], "format": ".1f", "title": "Survival probability", "labelOverlap": false}},
"text": {"field": "hr"}}},
{"data": {"name": "stats"}, "transform": [{"filter": "datum.panel === 'B'"}], "mark": {"type": "text", "align": "center", "baseline": "middle", "fontSize": 10.5, "fontStyle": "italic", "color": "#111111"}, "encoding": {
"x": {"datum": 128, "type": "quantitative", "scale": {"domain": [-8.7, 184.5], "nice": false, "zero": false}, "axis": {"values": [0, 60, 120, 180], "title": "Overall survival (months)", "labelOverlap": false}},
"y": {"datum": 0.966, "type": "quantitative", "scale": {"domain": [-0.05, 1.05], "nice": false, "zero": false}, "axis": {"values": [0, 0.1, 0.2, 0.3, 0.4, 0.5, 0.6, 0.7, 0.8, 0.9, 1], "format": ".1f", "title": "Survival probability", "labelOverlap": false}},
"text": {"value": "P"}}},
{"data": {"name": "stats"}, "transform": [{"filter": "datum.panel === 'B'"}], "mark": {"type": "text", "align": "left", "baseline": "middle", "dx": 6, "fontSize": 10.5, "color": "#111111"}, "encoding": {
"x": {"datum": 128, "type": "quantitative", "scale": {"domain": [-8.7, 184.5], "nice": false, "zero": false}, "axis": {"values": [0, 60, 120, 180], "title": "Overall survival (months)", "labelOverlap": false}},
"y": {"datum": 0.966, "type": "quantitative", "scale": {"domain": [-0.05, 1.05], "nice": false, "zero": false}, "axis": {"values": [0, 0.1, 0.2, 0.3, 0.4, 0.5, 0.6, 0.7, 0.8, 0.9, 1], "format": ".1f", "title": "Survival probability", "labelOverlap": false}},
"text": {"field": "rest"}}}
]
},
{
"width": 214, "height": 18,
"title": {"text": "N at risk", "frame": "bounds", "fontSize": 9, "offset": 1},
"data": {"name": "risk"},
"transform": [{"filter": "datum.panel === 'B'"}],
"mark": {"type": "text", "fontSize": 9, "color": "#111111"},
"encoding": {
"x": {"field": "time", "type": "quantitative", "scale": {"domain": [-8.7, 184.5], "nice": false, "zero": false}, "axis": null},
"y": {"field": "group", "type": "nominal", "scale": {"domain": ["Low−risk", "High−risk"]}, "axis": {"title": null, "domain": false, "ticks": false, "labelPadding": 1, "labelFontSize": 8.7, "labelColor": "#111111"}},
"text": {"field": "n", "type": "quantitative"}
}
}
]
},
{
"bounds": "flush", "spacing": 20,
"resolve": {"scale": {"color": "independent"}, "legend": {"color": "independent"}},
"vconcat": [
{
"width": 216, "height": 194,
"title": {"text": "C. Validation set 2", "dx": -19},
"layer": [
{"data": {"name": "km"}, "transform": [{"filter": "datum.panel === 'C'"}], "mark": {"type": "line", "interpolate": "step-after", "strokeWidth": 1.1}, "encoding": {
"x": {"field": "time", "type": "quantitative", "scale": {"domain": [-4.9, 100.2], "nice": false, "zero": false}, "axis": {"values": [0, 24, 48, 72, 96], "title": "Overall survival (months)", "labelOverlap": false}},
"y": {"field": "surv", "type": "quantitative", "scale": {"domain": [-0.05, 1.05], "nice": false, "zero": false}, "axis": {"values": [0, 0.1, 0.2, 0.3, 0.4, 0.5, 0.6, 0.7, 0.8, 0.9, 1], "format": ".1f", "title": "Survival probability", "labelOverlap": false}},
"color": {"field": "group", "type": "nominal", "scale": {"domain": ["Low−risk", "High−risk"], "range": ["#E8282B", "#3D2BF5"]}, "legend": {"title": null}}}},
{"data": {"name": "km"}, "transform": [{"filter": "datum.panel === 'C' && datum.cens === 1"}], "mark": {"type": "point", "shape": "M-1,0H1M0,-1V1", "size": 22, "strokeWidth": 1, "opacity": 0.65}, "encoding": {
"x": {"field": "time", "type": "quantitative", "scale": {"domain": [-4.9, 100.2], "nice": false, "zero": false}, "axis": {"values": [0, 24, 48, 72, 96], "title": "Overall survival (months)", "labelOverlap": false}},
"y": {"field": "surv", "type": "quantitative", "scale": {"domain": [-0.05, 1.05], "nice": false, "zero": false}, "axis": {"values": [0, 0.1, 0.2, 0.3, 0.4, 0.5, 0.6, 0.7, 0.8, 0.9, 1], "format": ".1f", "title": "Survival probability", "labelOverlap": false}},
"color": {"field": "group", "type": "nominal", "legend": null}}},
{"data": {"name": "stats"}, "transform": [{"filter": "datum.panel === 'C'"}], "mark": {"type": "text", "align": "right", "baseline": "middle", "dx": -6, "fontSize": 10.5, "color": "#111111"}, "encoding": {
"x": {"datum": 65.5, "type": "quantitative", "scale": {"domain": [-4.9, 100.2], "nice": false, "zero": false}, "axis": {"values": [0, 24, 48, 72, 96], "title": "Overall survival (months)", "labelOverlap": false}},
"y": {"datum": 0.93, "type": "quantitative", "scale": {"domain": [-0.05, 1.05], "nice": false, "zero": false}, "axis": {"values": [0, 0.1, 0.2, 0.3, 0.4, 0.5, 0.6, 0.7, 0.8, 0.9, 1], "format": ".1f", "title": "Survival probability", "labelOverlap": false}},
"text": {"field": "hr"}}},
{"data": {"name": "stats"}, "transform": [{"filter": "datum.panel === 'C'"}], "mark": {"type": "text", "align": "center", "baseline": "middle", "fontSize": 10.5, "fontStyle": "italic", "color": "#111111"}, "encoding": {
"x": {"datum": 65.5, "type": "quantitative", "scale": {"domain": [-4.9, 100.2], "nice": false, "zero": false}, "axis": {"values": [0, 24, 48, 72, 96], "title": "Overall survival (months)", "labelOverlap": false}},
"y": {"datum": 0.93, "type": "quantitative", "scale": {"domain": [-0.05, 1.05], "nice": false, "zero": false}, "axis": {"values": [0, 0.1, 0.2, 0.3, 0.4, 0.5, 0.6, 0.7, 0.8, 0.9, 1], "format": ".1f", "title": "Survival probability", "labelOverlap": false}},
"text": {"value": "P"}}},
{"data": {"name": "stats"}, "transform": [{"filter": "datum.panel === 'C'"}], "mark": {"type": "text", "align": "left", "baseline": "middle", "dx": 6, "fontSize": 10.5, "color": "#111111"}, "encoding": {
"x": {"datum": 65.5, "type": "quantitative", "scale": {"domain": [-4.9, 100.2], "nice": false, "zero": false}, "axis": {"values": [0, 24, 48, 72, 96], "title": "Overall survival (months)", "labelOverlap": false}},
"y": {"datum": 0.93, "type": "quantitative", "scale": {"domain": [-0.05, 1.05], "nice": false, "zero": false}, "axis": {"values": [0, 0.1, 0.2, 0.3, 0.4, 0.5, 0.6, 0.7, 0.8, 0.9, 1], "format": ".1f", "title": "Survival probability", "labelOverlap": false}},
"text": {"field": "rest"}}}
]
},
{
"width": 216, "height": 18,
"title": {"text": "N at risk", "frame": "bounds", "fontSize": 9, "offset": 1},
"data": {"name": "risk"},
"transform": [{"filter": "datum.panel === 'C'"}],
"mark": {"type": "text", "fontSize": 9, "color": "#111111"},
"encoding": {
"x": {"field": "time", "type": "quantitative", "scale": {"domain": [-4.9, 100.2], "nice": false, "zero": false}, "axis": null},
"y": {"field": "group", "type": "nominal", "scale": {"domain": ["Low−risk", "High−risk"]}, "axis": {"title": null, "domain": false, "ticks": false, "labelPadding": 1, "labelFontSize": 8.7, "labelColor": "#111111"}},
"text": {"field": "n", "type": "quantitative"}
}
}
]
}
]
},
{
"spacing": 9,
"resolve": {"scale": {"color": "independent"}, "legend": {"color": "independent"}},
"hconcat": [
{
"bounds": "flush", "spacing": 20,
"resolve": {"scale": {"color": "independent"}, "legend": {"color": "independent"}},
"vconcat": [
{
"width": 219, "height": 194,
"title": {"text": "D. Validation set 3", "dx": -32, "offset": 3},
"layer": [
{"data": {"name": "km"}, "transform": [{"filter": "datum.panel === 'D'"}], "mark": {"type": "line", "interpolate": "step-after", "strokeWidth": 1.1}, "encoding": {
"x": {"field": "time", "type": "quantitative", "scale": {"domain": [-6.1, 127.3], "nice": false, "zero": false}, "axis": {"values": [0, 24, 48, 72, 96, 120], "title": "Overall survival (months)", "labelOverlap": false}},
"y": {"field": "surv", "type": "quantitative", "scale": {"domain": [-0.05, 1.05], "nice": false, "zero": false}, "axis": {"values": [0, 0.1, 0.2, 0.3, 0.4, 0.5, 0.6, 0.7, 0.8, 0.9, 1], "format": ".1f", "title": "Survival probability", "labelOverlap": false}},
"color": {"field": "group", "type": "nominal", "scale": {"domain": ["Low−risk", "High−risk"], "range": ["#E8282B", "#3D2BF5"]}, "legend": {"title": null}}}},
{"data": {"name": "km"}, "transform": [{"filter": "datum.panel === 'D' && datum.cens === 1"}], "mark": {"type": "point", "shape": "M-1,0H1M0,-1V1", "size": 22, "strokeWidth": 1, "opacity": 0.65}, "encoding": {
"x": {"field": "time", "type": "quantitative", "scale": {"domain": [-6.1, 127.3], "nice": false, "zero": false}, "axis": {"values": [0, 24, 48, 72, 96, 120], "title": "Overall survival (months)", "labelOverlap": false}},
"y": {"field": "surv", "type": "quantitative", "scale": {"domain": [-0.05, 1.05], "nice": false, "zero": false}, "axis": {"values": [0, 0.1, 0.2, 0.3, 0.4, 0.5, 0.6, 0.7, 0.8, 0.9, 1], "format": ".1f", "title": "Survival probability", "labelOverlap": false}},
"color": {"field": "group", "type": "nominal", "legend": null}}},
{"data": {"name": "stats"}, "transform": [{"filter": "datum.panel === 'D'"}], "mark": {"type": "text", "align": "right", "baseline": "middle", "dx": -6, "fontSize": 10.5, "color": "#111111"}, "encoding": {
"x": {"datum": 92, "type": "quantitative", "scale": {"domain": [-6.1, 127.3], "nice": false, "zero": false}, "axis": {"values": [0, 24, 48, 72, 96, 120], "title": "Overall survival (months)", "labelOverlap": false}},
"y": {"datum": 0.952, "type": "quantitative", "scale": {"domain": [-0.05, 1.05], "nice": false, "zero": false}, "axis": {"values": [0, 0.1, 0.2, 0.3, 0.4, 0.5, 0.6, 0.7, 0.8, 0.9, 1], "format": ".1f", "title": "Survival probability", "labelOverlap": false}},
"text": {"field": "hr"}}},
{"data": {"name": "stats"}, "transform": [{"filter": "datum.panel === 'D'"}], "mark": {"type": "text", "align": "center", "baseline": "middle", "fontSize": 10.5, "fontStyle": "italic", "color": "#111111"}, "encoding": {
"x": {"datum": 92, "type": "quantitative", "scale": {"domain": [-6.1, 127.3], "nice": false, "zero": false}, "axis": {"values": [0, 24, 48, 72, 96, 120], "title": "Overall survival (months)", "labelOverlap": false}},
"y": {"datum": 0.952, "type": "quantitative", "scale": {"domain": [-0.05, 1.05], "nice": false, "zero": false}, "axis": {"values": [0, 0.1, 0.2, 0.3, 0.4, 0.5, 0.6, 0.7, 0.8, 0.9, 1], "format": ".1f", "title": "Survival probability", "labelOverlap": false}},
"text": {"value": "P"}}},
{"data": {"name": "stats"}, "transform": [{"filter": "datum.panel === 'D'"}], "mark": {"type": "text", "align": "left", "baseline": "middle", "dx": 6, "fontSize": 10.5, "color": "#111111"}, "encoding": {
"x": {"datum": 92, "type": "quantitative", "scale": {"domain": [-6.1, 127.3], "nice": false, "zero": false}, "axis": {"values": [0, 24, 48, 72, 96, 120], "title": "Overall survival (months)", "labelOverlap": false}},
"y": {"datum": 0.952, "type": "quantitative", "scale": {"domain": [-0.05, 1.05], "nice": false, "zero": false}, "axis": {"values": [0, 0.1, 0.2, 0.3, 0.4, 0.5, 0.6, 0.7, 0.8, 0.9, 1], "format": ".1f", "title": "Survival probability", "labelOverlap": false}},
"text": {"field": "rest"}}}
]
},
{
"width": 219, "height": 18,
"title": {"text": "N at risk", "frame": "bounds", "fontSize": 9, "offset": 1},
"data": {"name": "risk"},
"transform": [{"filter": "datum.panel === 'D'"}],
"mark": {"type": "text", "fontSize": 9, "color": "#111111"},
"encoding": {
"x": {"field": "time", "type": "quantitative", "scale": {"domain": [-6.1, 127.3], "nice": false, "zero": false}, "axis": null},
"y": {"field": "group", "type": "nominal", "scale": {"domain": ["Low−risk", "High−risk"]}, "axis": {"title": null, "domain": false, "ticks": false, "labelPadding": 1, "labelFontSize": 8.7, "labelColor": "#111111"}},
"text": {"field": "n", "type": "quantitative"}
}
}
]
},
{
"bounds": "flush", "spacing": 20,
"resolve": {"scale": {"color": "independent"}, "legend": {"color": "independent"}},
"vconcat": [
{
"width": 216, "height": 194,
"title": {"text": "E. Validation set 4", "dx": -26, "offset": 3},
"layer": [
{"data": {"name": "km"}, "transform": [{"filter": "datum.panel === 'E'"}], "mark": {"type": "line", "interpolate": "step-after", "strokeWidth": 1.1}, "encoding": {
"x": {"field": "time", "type": "quantitative", "scale": {"domain": [-6.4, 125.9], "nice": false, "zero": false}, "axis": {"values": [0, 24, 48, 72, 96, 120], "title": "Overall survival (months)", "labelOverlap": false}},
"y": {"field": "surv", "type": "quantitative", "scale": {"domain": [-0.05, 1.05], "nice": false, "zero": false}, "axis": {"values": [0, 0.1, 0.2, 0.3, 0.4, 0.5, 0.6, 0.7, 0.8, 0.9, 1], "format": ".1f", "title": "Survival probability", "labelOverlap": false}},
"color": {"field": "group", "type": "nominal", "scale": {"domain": ["Low−risk", "High−risk"], "range": ["#E8282B", "#3D2BF5"]}, "legend": {"title": null}}}},
{"data": {"name": "km"}, "transform": [{"filter": "datum.panel === 'E' && datum.cens === 1"}], "mark": {"type": "point", "shape": "M-1,0H1M0,-1V1", "size": 22, "strokeWidth": 1, "opacity": 0.65}, "encoding": {
"x": {"field": "time", "type": "quantitative", "scale": {"domain": [-6.4, 125.9], "nice": false, "zero": false}, "axis": {"values": [0, 24, 48, 72, 96, 120], "title": "Overall survival (months)", "labelOverlap": false}},
"y": {"field": "surv", "type": "quantitative", "scale": {"domain": [-0.05, 1.05], "nice": false, "zero": false}, "axis": {"values": [0, 0.1, 0.2, 0.3, 0.4, 0.5, 0.6, 0.7, 0.8, 0.9, 1], "format": ".1f", "title": "Survival probability", "labelOverlap": false}},
"color": {"field": "group", "type": "nominal", "legend": null}}},
{"data": {"name": "stats"}, "transform": [{"filter": "datum.panel === 'E'"}], "mark": {"type": "text", "align": "right", "baseline": "middle", "dx": -6, "fontSize": 10.5, "color": "#111111"}, "encoding": {
"x": {"datum": 87, "type": "quantitative", "scale": {"domain": [-6.4, 125.9], "nice": false, "zero": false}, "axis": {"values": [0, 24, 48, 72, 96, 120], "title": "Overall survival (months)", "labelOverlap": false}},
"y": {"datum": 0.952, "type": "quantitative", "scale": {"domain": [-0.05, 1.05], "nice": false, "zero": false}, "axis": {"values": [0, 0.1, 0.2, 0.3, 0.4, 0.5, 0.6, 0.7, 0.8, 0.9, 1], "format": ".1f", "title": "Survival probability", "labelOverlap": false}},
"text": {"field": "hr"}}},
{"data": {"name": "stats"}, "transform": [{"filter": "datum.panel === 'E'"}], "mark": {"type": "text", "align": "center", "baseline": "middle", "fontSize": 10.5, "fontStyle": "italic", "color": "#111111"}, "encoding": {
"x": {"datum": 87, "type": "quantitative", "scale": {"domain": [-6.4, 125.9], "nice": false, "zero": false}, "axis": {"values": [0, 24, 48, 72, 96, 120], "title": "Overall survival (months)", "labelOverlap": false}},
"y": {"datum": 0.952, "type": "quantitative", "scale": {"domain": [-0.05, 1.05], "nice": false, "zero": false}, "axis": {"values": [0, 0.1, 0.2, 0.3, 0.4, 0.5, 0.6, 0.7, 0.8, 0.9, 1], "format": ".1f", "title": "Survival probability", "labelOverlap": false}},
"text": {"value": "P"}}},
{"data": {"name": "stats"}, "transform": [{"filter": "datum.panel === 'E'"}], "mark": {"type": "text", "align": "left", "baseline": "middle", "dx": 6, "fontSize": 10.5, "color": "#111111"}, "encoding": {
"x": {"datum": 87, "type": "quantitative", "scale": {"domain": [-6.4, 125.9], "nice": false, "zero": false}, "axis": {"values": [0, 24, 48, 72, 96, 120], "title": "Overall survival (months)", "labelOverlap": false}},
"y": {"datum": 0.952, "type": "quantitative", "scale": {"domain": [-0.05, 1.05], "nice": false, "zero": false}, "axis": {"values": [0, 0.1, 0.2, 0.3, 0.4, 0.5, 0.6, 0.7, 0.8, 0.9, 1], "format": ".1f", "title": "Survival probability", "labelOverlap": false}},
"text": {"field": "rest"}}}
]
},
{
"width": 216, "height": 18,
"title": {"text": "N at risk", "frame": "bounds", "fontSize": 9, "offset": 1},
"data": {"name": "risk"},
"transform": [{"filter": "datum.panel === 'E'"}],
"mark": {"type": "text", "fontSize": 9, "color": "#111111"},
"encoding": {
"x": {"field": "time", "type": "quantitative", "scale": {"domain": [-6.4, 125.9], "nice": false, "zero": false}, "axis": null},
"y": {"field": "group", "type": "nominal", "scale": {"domain": ["Low−risk", "High−risk"]}, "axis": {"title": null, "domain": false, "ticks": false, "labelPadding": 1, "labelFontSize": 8.7, "labelColor": "#111111"}},
"text": {"field": "n", "type": "quantitative"}
}
}
]
},
{
"bounds": "flush", "spacing": 20,
"resolve": {"scale": {"color": "independent"}, "legend": {"color": "independent"}},
"vconcat": [
{
"width": 216, "height": 194,
"title": {"text": "F. Validation set 5", "dx": -19, "offset": 3},
"layer": [
{"data": {"name": "km"}, "transform": [{"filter": "datum.panel === 'F'"}], "mark": {"type": "line", "interpolate": "step-after", "strokeWidth": 1.1}, "encoding": {
"x": {"field": "time", "type": "quantitative", "scale": {"domain": [-2.43, 50], "nice": false, "zero": false}, "axis": {"values": [0, 12, 24, 36, 48], "title": "Overall survival (months)", "labelOverlap": false}},
"y": {"field": "surv", "type": "quantitative", "scale": {"domain": [-0.05, 1.05], "nice": false, "zero": false}, "axis": {"values": [0, 0.1, 0.2, 0.3, 0.4, 0.5, 0.6, 0.7, 0.8, 0.9, 1], "format": ".1f", "title": "Survival probability", "labelOverlap": false}},
"color": {"field": "group", "type": "nominal", "scale": {"domain": ["Low−risk", "High−risk"], "range": ["#E8282B", "#3D2BF5"]}, "legend": {"title": null}}}},
{"data": {"name": "km"}, "transform": [{"filter": "datum.panel === 'F' && datum.cens === 1"}], "mark": {"type": "point", "shape": "M-1,0H1M0,-1V1", "size": 22, "strokeWidth": 1, "opacity": 0.65}, "encoding": {
"x": {"field": "time", "type": "quantitative", "scale": {"domain": [-2.43, 50], "nice": false, "zero": false}, "axis": {"values": [0, 12, 24, 36, 48], "title": "Overall survival (months)", "labelOverlap": false}},
"y": {"field": "surv", "type": "quantitative", "scale": {"domain": [-0.05, 1.05], "nice": false, "zero": false}, "axis": {"values": [0, 0.1, 0.2, 0.3, 0.4, 0.5, 0.6, 0.7, 0.8, 0.9, 1], "format": ".1f", "title": "Survival probability", "labelOverlap": false}},
"color": {"field": "group", "type": "nominal", "legend": null}}},
{"data": {"name": "stats"}, "transform": [{"filter": "datum.panel === 'F'"}], "mark": {"type": "text", "align": "right", "baseline": "middle", "dx": -6, "fontSize": 10.5, "color": "#111111"}, "encoding": {
"x": {"datum": 32, "type": "quantitative", "scale": {"domain": [-2.43, 50], "nice": false, "zero": false}, "axis": {"values": [0, 12, 24, 36, 48], "title": "Overall survival (months)", "labelOverlap": false}},
"y": {"datum": 0.952, "type": "quantitative", "scale": {"domain": [-0.05, 1.05], "nice": false, "zero": false}, "axis": {"values": [0, 0.1, 0.2, 0.3, 0.4, 0.5, 0.6, 0.7, 0.8, 0.9, 1], "format": ".1f", "title": "Survival probability", "labelOverlap": false}},
"text": {"field": "hr"}}},
{"data": {"name": "stats"}, "transform": [{"filter": "datum.panel === 'F'"}], "mark": {"type": "text", "align": "center", "baseline": "middle", "fontSize": 10.5, "fontStyle": "italic", "color": "#111111"}, "encoding": {
"x": {"datum": 32, "type": "quantitative", "scale": {"domain": [-2.43, 50], "nice": false, "zero": false}, "axis": {"values": [0, 12, 24, 36, 48], "title": "Overall survival (months)", "labelOverlap": false}},
"y": {"datum": 0.952, "type": "quantitative", "scale": {"domain": [-0.05, 1.05], "nice": false, "zero": false}, "axis": {"values": [0, 0.1, 0.2, 0.3, 0.4, 0.5, 0.6, 0.7, 0.8, 0.9, 1], "format": ".1f", "title": "Survival probability", "labelOverlap": false}},
"text": {"value": "P"}}},
{"data": {"name": "stats"}, "transform": [{"filter": "datum.panel === 'F'"}], "mark": {"type": "text", "align": "left", "baseline": "middle", "dx": 6, "fontSize": 10.5, "color": "#111111"}, "encoding": {
"x": {"datum": 32, "type": "quantitative", "scale": {"domain": [-2.43, 50], "nice": false, "zero": false}, "axis": {"values": [0, 12, 24, 36, 48], "title": "Overall survival (months)", "labelOverlap": false}},
"y": {"datum": 0.952, "type": "quantitative", "scale": {"domain": [-0.05, 1.05], "nice": false, "zero": false}, "axis": {"values": [0, 0.1, 0.2, 0.3, 0.4, 0.5, 0.6, 0.7, 0.8, 0.9, 1], "format": ".1f", "title": "Survival probability", "labelOverlap": false}},
"text": {"field": "rest"}}}
]
},
{
"width": 216, "height": 18,
"title": {"text": "N at risk", "frame": "bounds", "fontSize": 9, "offset": 1},
"data": {"name": "risk"},
"transform": [{"filter": "datum.panel === 'F'"}],
"mark": {"type": "text", "fontSize": 9, "color": "#111111"},
"encoding": {
"x": {"field": "time", "type": "quantitative", "scale": {"domain": [-2.43, 50], "nice": false, "zero": false}, "axis": null},
"y": {"field": "group", "type": "nominal", "scale": {"domain": ["Low−risk", "High−risk"]}, "axis": {"title": null, "domain": false, "ticks": false, "labelPadding": 1, "labelFontSize": 8.7, "labelColor": "#111111"}},
"text": {"field": "n", "type": "quantitative"}
}
}
]
}
]
}
]
}
